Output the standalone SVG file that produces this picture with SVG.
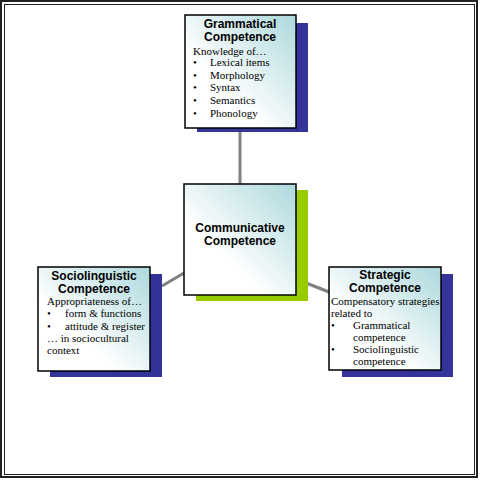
<svg xmlns="http://www.w3.org/2000/svg" width="480" height="480" viewBox="0 0 480 480">
<defs>
<linearGradient id="g" x1="0" y1="1" x2="1" y2="0">
<stop offset="0.35" stop-color="#ffffff"/>
<stop offset="1" stop-color="#acd8dc"/>
</linearGradient>
</defs>
<style>
.box{fill:url(#g);stroke:#000;stroke-width:1.5}
.sb{fill:#333399}
.sg{fill:#99cc00}
.t{font-family:"Liberation Sans",Arial,sans-serif;font-weight:bold;font-size:12px;text-anchor:middle;fill:#000}
.b{font-family:"Liberation Serif","Times New Roman",serif;font-size:11px;fill:#000}
.c{stroke:#808080;stroke-width:3;fill:none}
</style>
<rect width="480" height="480" fill="#fff"/>
<rect x="1" y="1" width="476" height="476" fill="none" stroke="#222" stroke-width="2"/>
<rect x="4.5" y="4.5" width="470" height="470" fill="none" stroke="#222" stroke-width="1"/>
<g id="connectors">
<line class="c" x1="240" y1="128" x2="240" y2="184"/>
<line class="c" x1="162" y1="286" x2="184" y2="273"/>
<line class="c" x1="296" y1="279" x2="329" y2="292"/>
</g>
<g id="grammatical">
<rect class="sb" x="197" y="23" width="111" height="109"/>
<rect class="box" x="185" y="15" width="111" height="113"/>
<text class="t" x="240" y="28">Grammatical</text>
<text class="t" x="240" y="41">Competence</text>
<text class="b" x="193" y="55">Knowledge of…</text>
<text class="b" x="193" y="66">•</text><text class="b" x="210" y="66">Lexical items</text>
<text class="b" x="193" y="79">•</text><text class="b" x="210" y="79">Morphology</text>
<text class="b" x="193" y="91">•</text><text class="b" x="210" y="91">Syntax</text>
<text class="b" x="193" y="104">•</text><text class="b" x="210" y="104">Semantics</text>
<text class="b" x="193" y="117">•</text><text class="b" x="210" y="117">Phonology</text>
</g>
<g id="communicative">
<rect class="sg" x="196" y="190" width="112" height="111"/>
<rect class="box" x="184" y="184" width="112" height="111"/>
<text class="t" x="240" y="232">Communicative</text>
<text class="t" x="240" y="245">Competence</text>
</g>
<g id="sociolinguistic">
<rect class="sb" x="50" y="274" width="112" height="103"/>
<rect class="box" x="38" y="267" width="112" height="104"/>
<text class="t" x="94" y="280">Sociolinguistic</text>
<text class="t" x="94" y="293">Competence</text>
<text class="b" x="47" y="305">Appropriateness of…</text>
<text class="b" x="47" y="317">•</text><text class="b" x="65" y="317">form &amp; functions</text>
<text class="b" x="47" y="330">•</text><text class="b" x="65" y="330">attitude &amp; register</text>
<text class="b" x="47" y="342">… in sociocultural</text>
<text class="b" x="47" y="354">context</text>
</g>
<g id="strategic">
<rect class="sb" x="342" y="274" width="111" height="103"/>
<rect class="box" x="329" y="267" width="112" height="103"/>
<text class="t" x="385" y="279">Strategic</text>
<text class="t" x="385" y="292">Competence</text>
<text class="b" x="331" y="305">Compensatory strategies</text>
<text class="b" x="331" y="317">related to</text>
<text class="b" x="331" y="329">•</text><text class="b" x="353" y="329">Grammatical</text>
<text class="b" x="353" y="341">competence</text>
<text class="b" x="331" y="353">•</text><text class="b" x="353" y="353">Sociolinguistic</text>
<text class="b" x="353" y="365">competence</text>
</g>
</svg>
